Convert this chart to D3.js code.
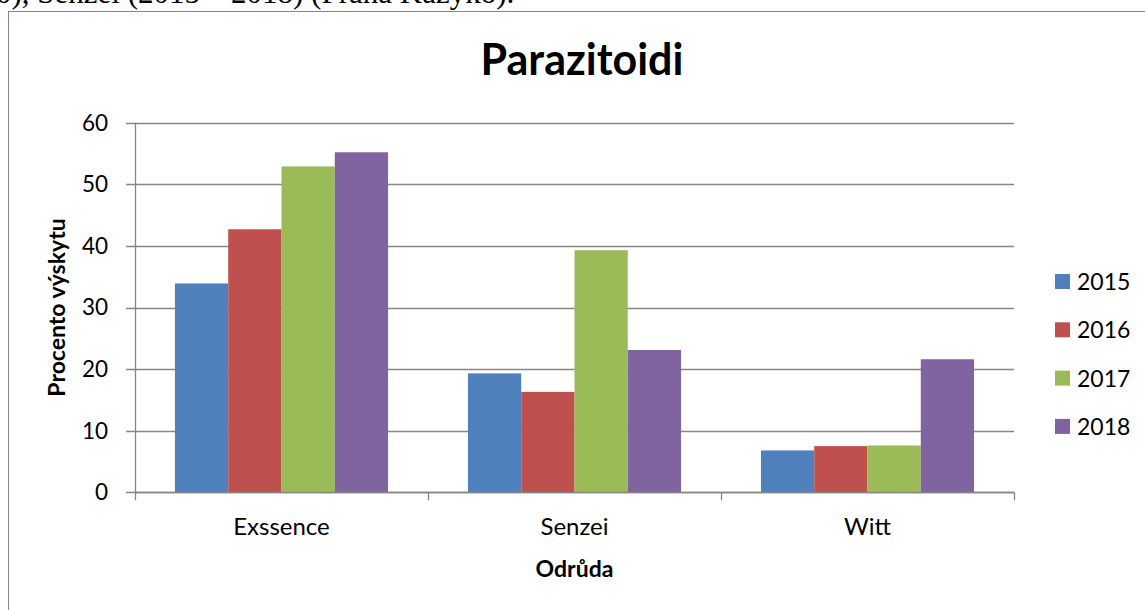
<!DOCTYPE html>
<html><head><meta charset="utf-8">
<script src="https://cdn.jsdelivr.net/npm/d3@7"></script>
<style>body{margin:0;background:#fff}svg{display:block}</style>
</head><body>
<script>
const categories = ["Exssence", "Senzei", "Witt"];
const seriesNames = ["2015", "2016", "2017", "2018"];
const v2015 = [33.9, 19.3, 6.8];
const v2016 = [42.7, 16.3, 7.5];
const v2017 = [52.9, 39.3, 7.6];
const v2018 = [55.2, 23.1, 21.6];
const yTicks = [0, 10, 20, 30, 40, 50, 60];
const colors = ["#4F81BD", "#C0504D", "#9BBB59", "#8064A2"];
const series = [v2015, v2016, v2017, v2018];

const W = 1145, H = 610;
const svg = d3.select("body").append("svg").attr("width", W).attr("height", H);
const font = "Lato, 'Open Sans', sans-serif";

// caption fragment above chart (cut off at the top, as in the source)
svg.append("text").attr("x", -4).attr("y", 3)
  .attr("font-family", "'Liberation Serif', 'Times New Roman', serif").attr("font-size", 31)
  .text("0), Senzei (2015 – 2018) (Frana Kazyko).");

// chart frame
svg.append("rect").attr("x", 8.5).attr("y", 11.5).attr("width", W).attr("height", H)
  .attr("fill", "#fff").attr("stroke", "#868686").attr("stroke-width", 1);

const x0 = 135, x1 = 1014, yTop = 122.7, yBot = 492.3;
const x = d3.scaleBand().domain(categories).range([x0, x1]).paddingInner(0).paddingOuter(0);
const y = d3.scaleLinear().domain([0, 60]).range([yBot, yTop]);
const inner = d3.scaleBand().domain(seriesNames)
  .range([0, x.bandwidth()]).paddingInner(0).paddingOuter(0.75);

// gridlines
svg.append("g").selectAll("line").data(yTicks).join("line")
  .attr("x1", x0 - 9).attr("x2", x1)
  .attr("y1", d => Math.round(y(d)) + 0.5).attr("y2", d => Math.round(y(d)) + 0.5)
  .attr("stroke", "#868686").attr("stroke-width", 1.3);

// bars
seriesNames.forEach((s, i) => {
  svg.append("g").selectAll("rect").data(categories).join("rect")
    .attr("x", c => x(c) + inner(s))
    .attr("width", inner.bandwidth())
    .attr("y", (c, j) => y(series[i][j]))
    .attr("height", (c, j) => yBot - y(series[i][j]))
    .attr("fill", colors[i]);
});

// y axis line
svg.append("line").attr("x1", x0 + 0.5).attr("x2", x0 + 0.5).attr("y1", yTop).attr("y2", yBot + 8)
  .attr("stroke", "#868686").attr("stroke-width", 1.3);
// x axis line
svg.append("line").attr("x1", x0).attr("x2", x1).attr("y1", Math.round(yBot) + 0.5).attr("y2", Math.round(yBot) + 0.5)
  .attr("stroke", "#868686").attr("stroke-width", 1.3);
// category ticks
const bounds = categories.map(c => x(c) + x.bandwidth());
svg.append("g").selectAll("line").data(bounds).join("line")
  .attr("x1", d => Math.round(d) + 0.5).attr("x2", d => Math.round(d) + 0.5)
  .attr("y1", yBot).attr("y2", yBot + 8)
  .attr("stroke", "#868686").attr("stroke-width", 1.3);

// y tick labels
svg.append("g").selectAll("text").data(yTicks).join("text")
  .attr("x", 108).attr("y", d => y(d)).attr("dy", "0.35em")
  .attr("text-anchor", "end").attr("font-family", font).attr("font-size", 22.5)
  .text(d => d);

// category labels
svg.append("g").selectAll("text").data(categories).join("text")
  .attr("x", c => x(c) + x.bandwidth() / 2).attr("y", 535)
  .attr("text-anchor", "middle").attr("font-family", font).attr("font-size", 24)
  .text(c => c);

// title
svg.append("text").attr("x", 582).attr("y", 75).attr("text-anchor", "middle")
  .attr("font-family", font).attr("font-weight", "bold").attr("font-size", 43)
  .text("Parazitoidi");

// axis titles
svg.append("text").attr("x", (x0 + x1) / 2).attr("y", 577).attr("text-anchor", "middle")
  .attr("font-family", font).attr("font-weight", "bold").attr("font-size", 23)
  .text("Odrůda");
svg.append("text").attr("transform", `translate(65,${(yTop + yBot) / 2}) rotate(-90)`)
  .attr("text-anchor", "middle")
  .attr("font-family", font).attr("font-weight", "bold").attr("font-size", 23)
  .text("Procento výskytu");

// legend
const lg = svg.append("g").selectAll("g").data(seriesNames).join("g")
  .attr("transform", (d, i) => `translate(1055,${274 + i * 48.3})`);
lg.append("rect").attr("width", 15).attr("height", 15).attr("fill", (d, i) => colors[i]);
lg.append("text").attr("x", 22).attr("y", 16).attr("font-family", font).attr("font-size", 23).text(d => d);
</script>
</body></html>
